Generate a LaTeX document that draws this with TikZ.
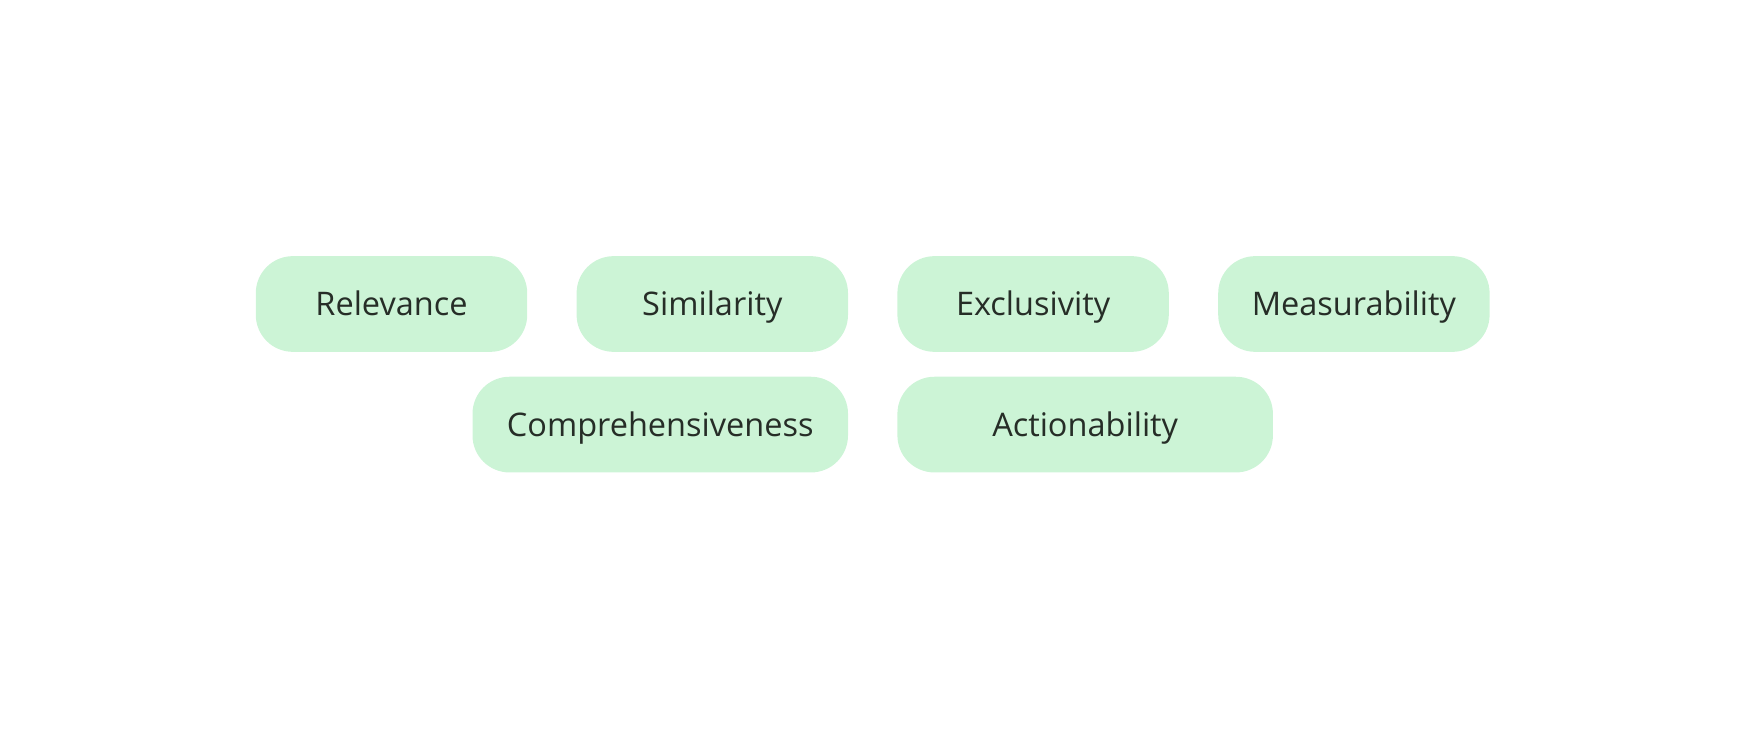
\documentclass[tikz,border=0pt]{standalone}
\usepackage{fontspec}
\setmainfont{Open Sans}
\usepackage{xcolor}
\usepackage{tikz}
\usetikzlibrary{positioning,calc}
\definecolor{pillfill}{HTML}{CCF4D6}
\definecolor{pilltext}{HTML}{262D27}
\tikzset{
  Pill/.style={
    fill=pillfill, draw=none,
    rounded corners=37pt,
    minimum height=95.7pt, minimum width=271.4pt,
    inner sep=0pt, text=pilltext,
    text height=23pt, text depth=0pt,
    font=\fontsize{32.5}{38}\selectfont
  },
  WidePill/.style={Pill, minimum width=375.5pt}
}

\begin{document}
\begin{tikzpicture}[x=1pt, y=1pt]
  \useasboundingbox (0,0) rectangle (1744,728);

  % top row
  \node[Pill] (rel) at (391.5,424) {Relevance};
  \node[Pill, right=49pt of rel] (sim) {Similarity};
  \node[Pill, right=49pt of sim] (excl) {Exclusivity};
  \node[Pill, right=49pt of excl] (meas) {Measurability};

  % bottom row
  \node[WidePill, below=24.5pt of sim.south east, anchor=north east] (comp) {Comprehensiveness};
  \node[WidePill, below=24.5pt of excl.south west, anchor=north west] (act) {Actionability};
\end{tikzpicture}
\end{document}
